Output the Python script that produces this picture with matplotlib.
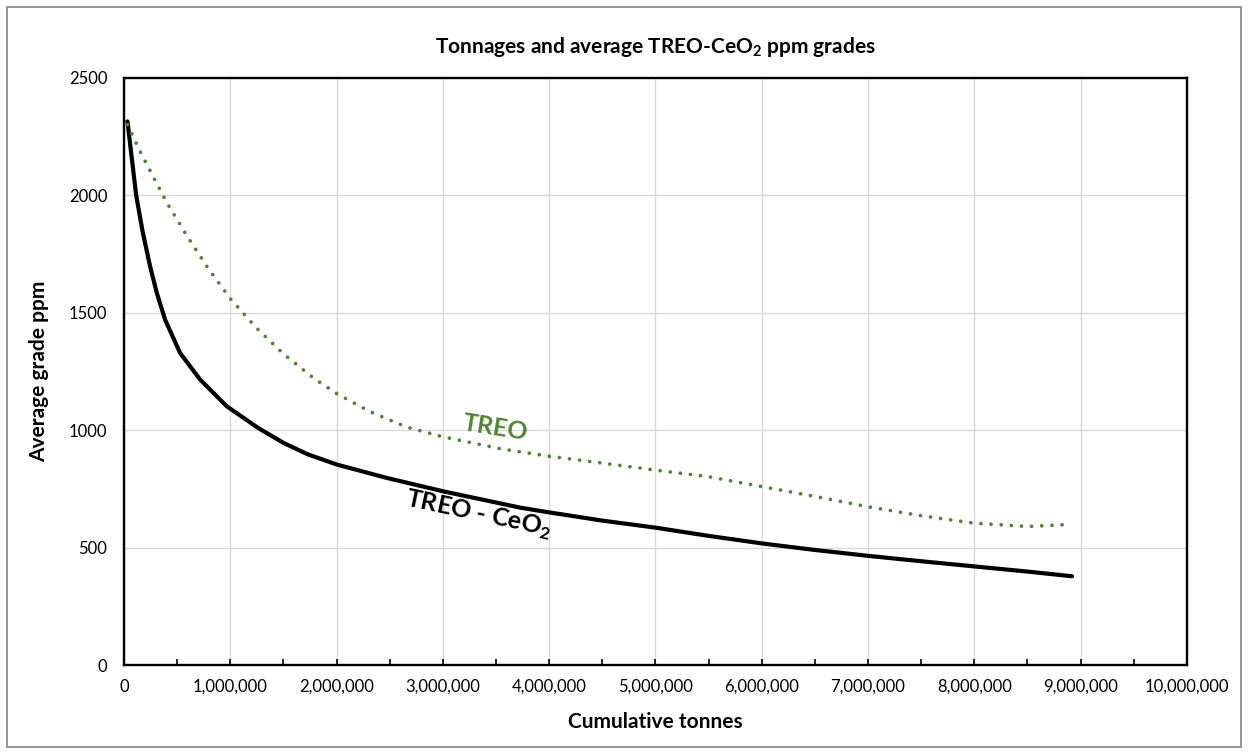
import matplotlib.pyplot as plt
from matplotlib.patches import Rectangle
from matplotlib.ticker import FuncFormatter, MultipleLocator

plt.rcParams['font.family'] = ['Lato', 'DejaVu Sans']
plt.rcParams['mathtext.fontset'] = 'custom'
plt.rcParams['mathtext.rm'] = 'Lato'
plt.rcParams['mathtext.bf'] = 'Lato:bold'

# cumulative tonnes vs average grade (ppm)
treo_ceo2_tonnes = [32e3, 75e3, 114e3, 175e3, 245e3, 308e3, 386e3, 527e3, 715e3,
                    966e3, 1.26e6, 1.5e6, 1.73e6, 2.0e6, 2.47e6, 3.0e6, 3.73e6,
                    4.0e6, 4.5e6, 5.0e6, 5.5e6, 6.0e6, 6.5e6, 7.0e6, 7.5e6,
                    8.0e6, 8.5e6, 8.92e6]
treo_ceo2_ppm = [2315, 2150, 2000, 1845, 1698, 1585, 1471, 1329, 1216,
                 1102, 1010, 946, 897, 854, 797, 740, 670,
                 650, 615, 585, 550, 518, 490, 465, 442,
                 420, 398, 378]

treo_tonnes = [32e3, 151e3, 276e3, 401e3, 590e3, 784e3, 1.0e6, 1.24e6, 1.5e6,
               1.78e6, 2.0e6, 2.31e6, 2.66e6, 3.0e6, 3.54e6, 4.0e6, 4.5e6,
               5.0e6, 5.5e6, 6.0e6, 6.5e6, 7.0e6, 7.5e6, 8.0e6, 8.5e6, 8.92e6]
treo_ppm = [2301, 2187, 2078, 1970, 1829, 1694, 1560, 1438, 1325,
            1223, 1156, 1080, 1013, 972, 921, 889, 860,
            830, 802, 760, 718, 674, 636, 604, 590, 599]

green = '#548235'

fig = plt.figure(figsize=(12.48, 7.54), dpi=100)
ax = fig.add_axes([0.0994, 0.118, 0.8516, 0.7786])

ax.plot(treo_ceo2_tonnes, treo_ceo2_ppm, color='black', lw=3.0,
        solid_capstyle='round', solid_joinstyle='round', zorder=3)
ax.plot(treo_tonnes, treo_ppm, color=green, lw=2.7,
        linestyle=(0, (0.01, 2.7)), dash_capstyle='round', zorder=3)

ax.set_xlim(0, 10e6)
ax.set_ylim(0, 2500)
ax.xaxis.set_major_locator(MultipleLocator(1e6))
ax.xaxis.set_minor_locator(MultipleLocator(5e5))
ax.yaxis.set_major_locator(MultipleLocator(500))
ax.xaxis.set_major_formatter(FuncFormatter(lambda v, p: f'{int(v):,}'))

ax.grid(True, which='major', color='#d9d9d9', lw=1.0)
ax.set_axisbelow(True)
ax.tick_params(axis='x', which='both', direction='in', length=4, width=1.2,
               labelsize=12, pad=10)
ax.tick_params(axis='y', length=0, labelsize=12, pad=12)
for s in ax.spines.values():
    s.set_linewidth(1.7)
    s.set_color('black')

ax.set_xlabel('Cumulative tonnes', fontsize=15, fontweight='bold', labelpad=12)
ax.set_ylabel('Average grade ppm', fontsize=15, fontweight='bold', labelpad=14)
fig.text(0.525, 0.938, 'Tonnages and average TREO-CeO$_\\mathbf{2}$ ppm grades',
         ha='center', va='center', fontsize=15, fontweight='bold')

ax.text(3.49e6, 1011, 'TREO', color=green, fontsize=18, fontweight='bold',
        rotation=-9, ha='center', va='center')
ax.text(3.33e6, 640, 'TREO - CeO$_\\mathbf{2}$', color='black', fontsize=18,
        fontweight='bold', rotation=-12, ha='center', va='center')

fig.patches.append(Rectangle((0.0056, 0.0093), 0.9888, 0.9814,
                             transform=fig.transFigure, fill=False,
                             edgecolor='#8c8c8c', lw=1.3))

fig.savefig('out.png', dpi=100)
